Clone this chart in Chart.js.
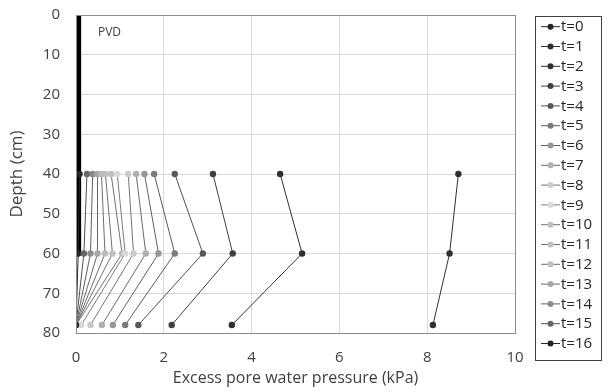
<!DOCTYPE html>
<html>
<head>
<meta charset="utf-8">
<script src="https://cdn.jsdelivr.net/npm/chart.js@4.4.1/dist/chart.umd.min.js"></script>
<style>
  html, body { margin: 0; padding: 0; background: #fff; }
  #wrap { width: 611px; height: 392px; }
</style>
</head>
<body>
<div id="wrap"><canvas id="myChart" width="611" height="392"></canvas></div>
<script>
// profundidades medidas (cm)
var depths = [40, 60, 78];

// series t=0 .. t=16 (kPa) at 40, 60, 78 cm
var labels = ["t=0","t=1","t=2","t=3","t=4","t=5","t=6","t=7","t=8","t=9","t=10","t=11","t=12","t=13","t=14","t=15","t=16"];
var t0  = [0, 0, 0];
var t1  = [8.71, 8.51, 8.13];
var t2  = [4.65, 5.15, 3.55];
var t3  = [3.12, 3.57, 2.18];
var t4  = [2.25, 2.89, 1.42];
var t5  = [1.78, 2.25, 1.12];
var t6  = [1.56, 1.88, 0.84];
var t7  = [1.37, 1.59, 0.59];
var t8  = [1.19, 1.31, 0.33];
var t9  = [0.94, 1.12, 0.12];
var t10 = [0.80, 1.05, 0];
var t11 = [0.67, 0.83, 0];
var t12 = [0.58, 0.66, 0];
var t13 = [0.49, 0.49, 0];
var t14 = [0.38, 0.33, 0];
var t15 = [0.25, 0.18, 0];
var t16 = [0.08, 0.05, 0];
var series = [t0,t1,t2,t3,t4,t5,t6,t7,t8,t9,t10,t11,t12,t13,t14,t15,t16];

var colors = ["#262626","#303030","#303030","#404040","#595959","#7a7a7a","#969696","#b0b0b0","#cacaca","#d9d9d9",
              "#bfbfbf","#bfbfbf","#bdbdbd","#a6a6a6","#8c8c8c","#666666","#262626"];
// linhas um pouco mais escuras que os marcadores
var lineColors = ["#262626","#303030","#303030","#404040","#505050","#5a5a5a","#606060","#6a6a6a","#737373","#7a7a7a",
                  "#707070","#707070","#6c6c6c","#666666","#5e5e5e","#505050","#262626"];

// PVD (dreno) de 0 a 60 cm
var pvdX = [0.06, 0.06];
var pvdDepth = [0, 60];

var datasets = series.map(function (vals, i) {
  return {
    label: labels[i],
    data: vals.map(function (v, k) { return { x: v, y: depths[k] }; }),
    showLine: true,
    borderColor: lineColors[i],
    backgroundColor: colors[i],
    borderWidth: 1,
    pointRadius: 3.2,
    pointBorderWidth: 0,
    pointHoverRadius: 3.2
  };
});
datasets.push({
  label: "PVD",
  data: pvdX.map(function (v, k) { return { x: v, y: pvdDepth[k] }; }),
  showLine: true,
  borderColor: "#000",
  borderWidth: 5,
  pointRadius: 0,
  borderCapStyle: "butt"
});

var font = "'Open Sans', sans-serif";

// borda do grafico + legenda + texto PVD
var extras = {
  id: "extras",
  afterDatasetsDraw: function (chart) {
    var ctx = chart.ctx, a = chart.chartArea;
    ctx.save();
    ctx.strokeStyle = "#8c8c8c";
    ctx.lineWidth = 1;
    ctx.strokeRect(Math.round(a.left) + 0.5, Math.round(a.top) + 0.5, Math.round(a.right - a.left), Math.round(a.bottom - a.top));
    var xs = chart.scales.x, ys = chart.scales.y;
    ctx.fillStyle = "#404040";
    ctx.font = "12px " + font;
    ctx.textBaseline = "middle";
    ctx.textAlign = "left";
    ctx.fillText("PVD", xs.getPixelForValue(0.5), ys.getPixelForValue(4.5));

    // legenda
    ctx.strokeStyle = "#404040";
    ctx.strokeRect(535.5, 16.5, 66, 344);
    ctx.font = "15px " + font;
    for (var i = 0; i < labels.length; i++) {
      var y = 26.7 + i * 19.8;
      ctx.strokeStyle = lineColors[i];
      ctx.lineWidth = 1;
      ctx.beginPath();
      ctx.moveTo(541, y);
      ctx.lineTo(560, y);
      ctx.stroke();
      ctx.fillStyle = colors[i];
      ctx.beginPath();
      ctx.arc(550.5, y, 3, 0, Math.PI * 2);
      ctx.fill();
      ctx.fillStyle = "#262626";
      ctx.fillText(labels[i], 561, y + 0.5);
    }
    ctx.restore();
  }
};

var ctx = document.getElementById("myChart").getContext("2d");
var myChart = new Chart(ctx, {
  type: "scatter",
  data: { datasets: datasets },
  options: {
    responsive: false,
    animation: false,
    events: [],
    layout: { padding: { left: 7, right: 96, top: 15, bottom: 4 } },
    plugins: {
      legend: { display: false },
      tooltip: { enabled: false }
    },
    scales: {
      x: {
        type: "linear",
        min: 0, max: 10,
        ticks: { stepSize: 2, color: "#404040", font: { family: font, size: 15 }, padding: 16 },
        grid: { color: "#d9d9d9", drawTicks: false },
        border: { display: false },
        title: { display: true, text: "Excess pore water pressure (kPa)", color: "#404040", font: { family: font, size: 16 }, padding: 0 },
        afterFit: function (s) { s.height = 55; s.paddingLeft = 0; s.paddingRight = 0; }
      },
      y: {
        type: "linear",
        min: 0, max: 80,
        reverse: true,
        ticks: { stepSize: 10, color: "#404040", font: { family: font, size: 15 }, padding: 16 },
        grid: { color: "#d9d9d9", drawTicks: false },
        border: { display: false },
        title: { display: true, text: "Depth (cm)", color: "#404040", font: { family: font, size: 17 }, padding: 0 },
        afterFit: function (s) { s.width = 69; s.paddingTop = 0; s.paddingBottom = 0; }
      }
    }
  },
  plugins: [extras]
});
</script>
</body>
</html>
